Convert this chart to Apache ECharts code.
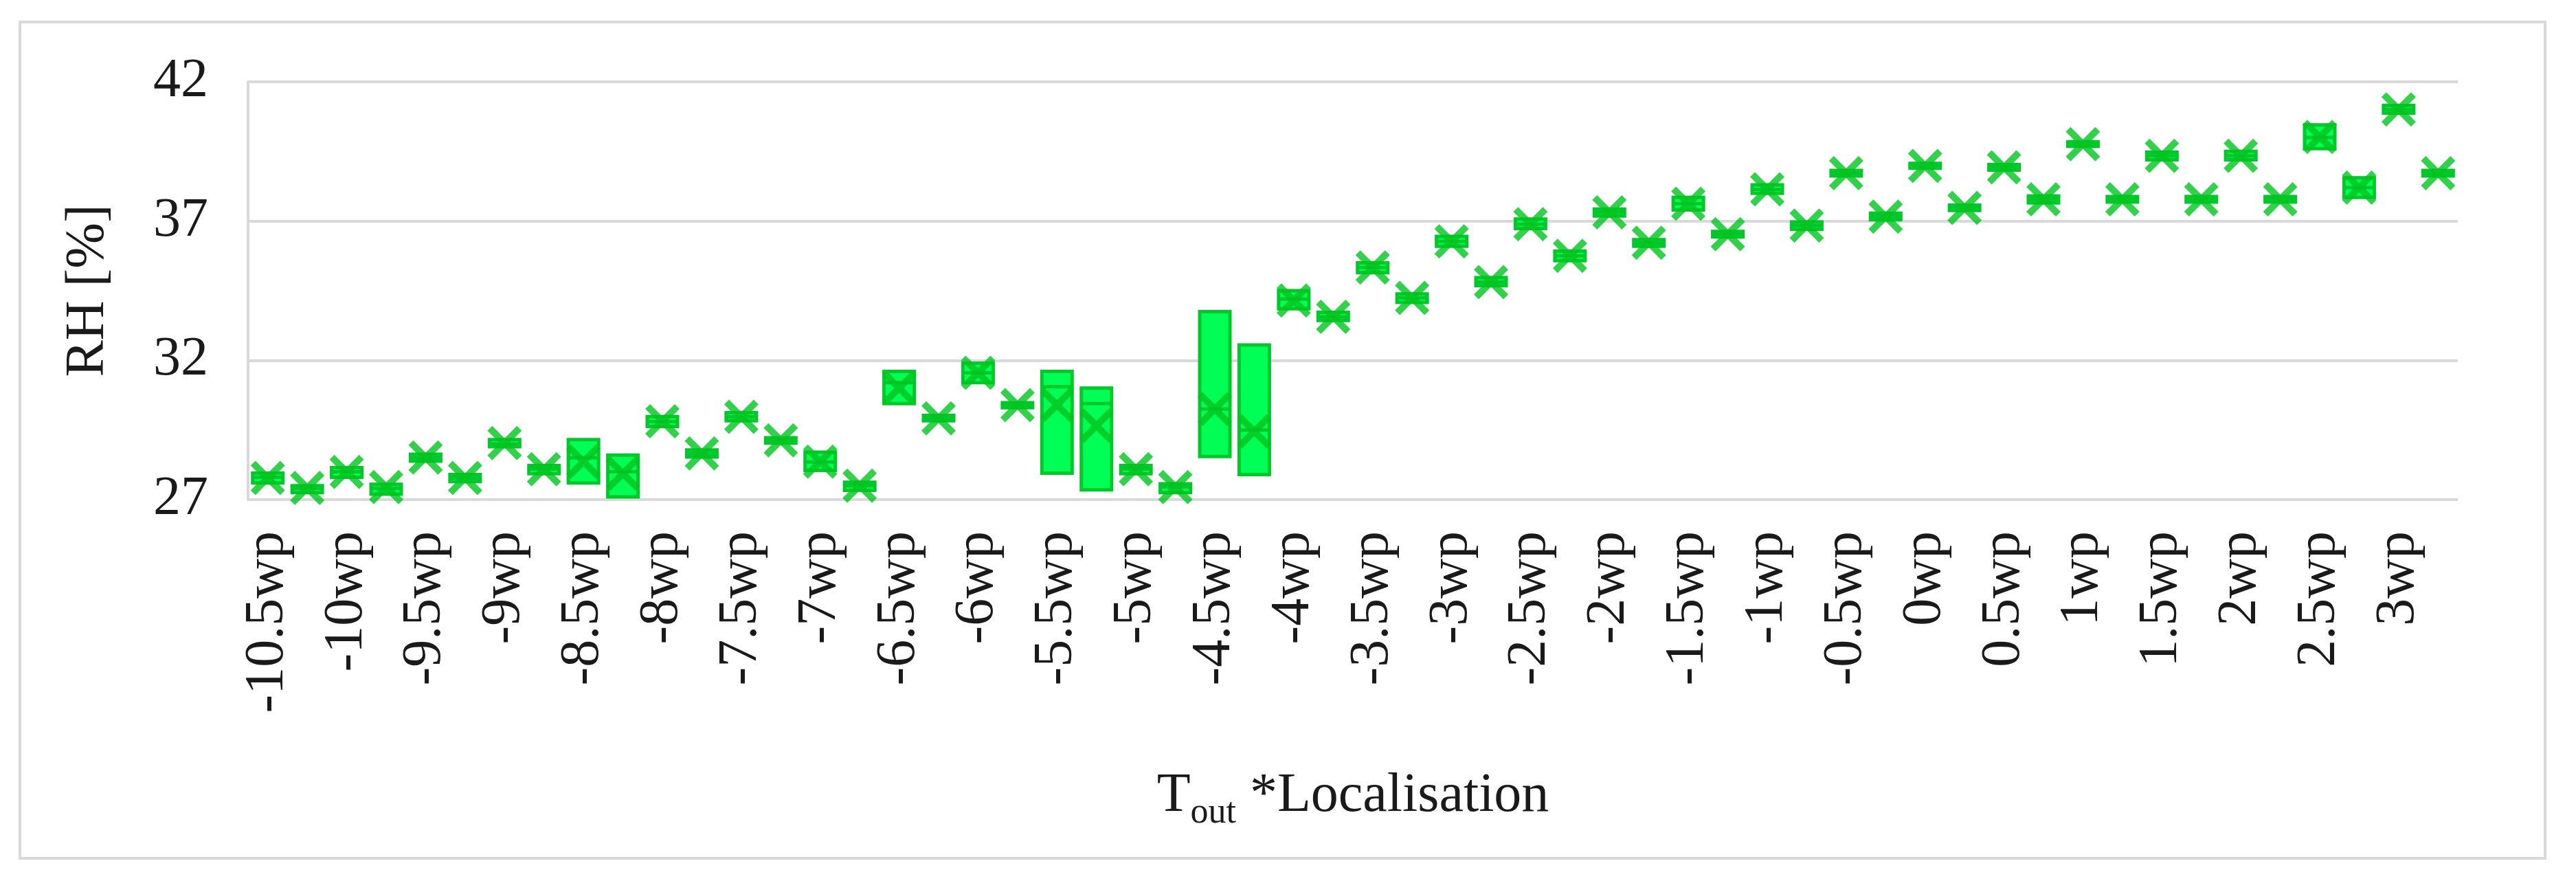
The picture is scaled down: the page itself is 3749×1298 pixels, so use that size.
<!DOCTYPE html>
<html>
<head>
<meta charset="utf-8">
<script src="https://cdn.jsdelivr.net/npm/echarts@6/dist/echarts.min.js"></script>
<style>
  html, body { margin: 0; padding: 0; background: #ffffff; }
  #chart { width: 3749px; height: 1298px; }
</style>
</head>
<body>
<div id="chart"></div>
<script>
// Categories (only every other one is labelled on the axis, as in the original)
const categories = [
  "-10.5wp","-10.5ap","-10wp","-10ap","-9.5wp","-9.5ap","-9wp","-9ap",
  "-8.5wp","-8.5ap","-8wp","-8ap","-7.5wp","-7.5ap","-7wp","-7ap",
  "-6.5wp","-6.5ap","-6wp","-6ap","-5.5wp","-5.5ap","-5wp","-5ap",
  "-4.5wp","-4.5ap","-4wp","-4ap","-3.5wp","-3.5ap","-3wp","-3ap",
  "-2.5wp","-2.5ap","-2wp","-2ap","-1.5wp","-1.5ap","-1wp","-1ap",
  "-0.5wp","-0.5ap","0wp","0ap","0.5wp","0.5ap","1wp","1ap",
  "1.5wp","1.5ap","2wp","2ap","2.5wp","2.5ap","3wp","3ap"
];

// Box lower quartile, median, upper quartile and mean (RH, %)
const q1 = [
  27.60,27.25,27.80,27.20,28.38,27.65,28.90,27.93,
  27.60,27.10,29.63,28.53,29.83,29.03,28.05,27.33,
  30.45,29.83,31.20,30.30,27.95,27.35,27.93,27.25,
  28.55,27.90,33.85,33.43,35.15,34.08,36.10,34.68,
  36.73,35.58,37.18,36.10,37.40,36.43,38.00,36.70,
  38.62,37.05,38.90,37.38,38.83,37.65,39.68,37.68,
  39.20,37.68,39.20,37.68,39.60,37.85,40.88,38.62
];
const median = [
  27.80,27.40,28.00,27.40,28.50,27.78,29.00,28.10,
  28.50,28.00,29.80,28.65,29.97,29.13,28.35,27.50,
  31.20,29.92,31.55,30.39,31.05,30.45,28.10,27.45,
  30.25,29.50,34.20,33.56,35.33,34.24,36.27,34.81,
  36.89,35.75,37.31,36.22,37.62,36.53,38.14,36.84,
  38.72,37.16,38.98,37.47,38.93,37.78,39.76,37.78,
  39.34,37.78,39.34,37.78,40.00,38.20,41.01,38.72
];
const q3 = [
  27.95,27.50,28.15,27.55,28.63,27.90,29.15,28.22,
  29.15,28.60,29.98,28.78,30.12,29.22,28.70,27.62,
  31.60,30.02,31.90,30.48,31.60,31.00,28.22,27.57,
  33.75,32.55,34.50,33.72,35.50,34.38,36.45,34.97,
  37.07,35.92,37.43,36.33,37.85,36.63,38.30,36.97,
  38.82,37.28,39.07,37.57,39.03,37.90,39.85,37.88,
  39.47,37.88,39.50,37.88,40.45,38.55,41.15,38.82
];
const mean = [
  27.78,27.42,27.99,27.45,28.51,27.78,29.03,28.09,
  28.36,27.94,29.81,28.66,29.97,29.13,28.36,27.50,
  31.00,29.92,31.55,30.39,30.40,29.65,28.09,27.45,
  30.25,29.45,34.15,33.56,35.33,34.24,36.27,34.81,
  36.89,35.75,37.31,36.22,37.62,36.53,38.14,36.84,
  38.72,37.16,38.98,37.47,38.93,37.78,39.76,37.78,
  39.34,37.78,39.34,37.78,40.02,38.20,41.01,38.72
];

// Y-axis ticks
const yTicks = [27, 32, 37, 42];

const boxData = categories.map((c, i) => [q1[i], q1[i], median[i], q3[i], q3[i]]);
const meanData = categories.map((c, i) => [i, mean[i]]);

const chart = echarts.init(document.getElementById('chart'), null, { renderer: 'canvas' });
const serif = '"Liberation Serif", "Times New Roman", serif';
const xShape = 'path://M0,2.8L2.8,0L10,7.2L17.2,0L20,2.8L12.8,10L20,17.2L17.2,20L10,12.8L2.8,20L0,17.2L7.2,10Z';

chart.setOption({
  backgroundColor: '#ffffff',
  animation: false,
  graphic: [{
    type: 'rect',
    shape: { x: 29, y: 32, width: 3675, height: 1217 },
    style: { fill: 'none', stroke: '#d9d9d9', lineWidth: 4 },
    silent: true, z: -1
  }],
  grid: { left: 361, right: 172, top: 119, bottom: 571, containLabel: false },
  xAxis: {
    type: 'category',
    data: categories,
    boundaryGap: true,
    axisLine: { show: false },
    axisTick: { show: false },
    axisLabel: {
      interval: 1,
      rotate: 90,
      margin: 46,
      fontFamily: serif,
      fontSize: 80,
      color: '#1a1a1a'
    },
    name: '{m|T}{s|out}{m| *Localisation}',
    nameLocation: 'middle',
    nameGap: 382,
    nameTextStyle: {
      fontFamily: serif,
      color: '#1a1a1a',
      rich: {
        m: { fontFamily: serif, fontSize: 80, lineHeight: 100, color: '#1a1a1a' },
        s: { fontFamily: serif, fontSize: 52, lineHeight: 60, verticalAlign: 'bottom', color: '#1a1a1a' }
      }
    }
  },
  yAxis: {
    type: 'value',
    min: yTicks[0],
    max: yTicks[yTicks.length - 1],
    interval: 5,
    axisLine: { show: true, lineStyle: { color: '#d9d9d9', width: 4 } },
    axisTick: { show: false },
    splitLine: { show: true, lineStyle: { color: '#d9d9d9', width: 4 } },
    axisLabel: {
      margin: 58,
      fontFamily: serif,
      fontSize: 80,
      color: '#1a1a1a'
    },
    name: 'RH [%]',
    nameLocation: 'middle',
    nameRotate: 90,
    nameGap: 192,
    nameTextStyle: { fontFamily: serif, fontSize: 80, color: '#1a1a1a' }
  },
  series: [
    {
      type: 'boxplot',
      data: boxData,
      boxWidth: [44, 44],
      itemStyle: { color: '#00ff55', borderColor: '#00c82a', borderWidth: 5 },
      z: 2
    },
    {
      type: 'scatter',
      data: meanData,
      symbol: xShape,
      symbolSize: [50, 50],
      itemStyle: { color: '#00c41e' },
      z: 3
    }
  ]
});
</script>
</body>
</html>
